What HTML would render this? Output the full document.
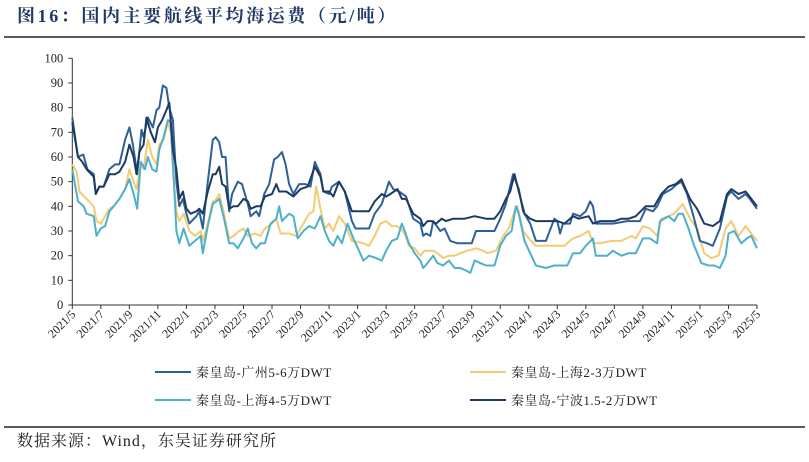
<!DOCTYPE html>
<html><head><meta charset="utf-8"><style>
body{margin:0;background:#fff;width:809px;height:457px;overflow:hidden;font-family:"Liberation Serif","Noto Serif CJK SC",serif}
</style></head><body>
<svg width="809" height="457" xmlns="http://www.w3.org/2000/svg">
<text x="17" y="22" font-size="18" font-weight="bold" letter-spacing="2.6" fill="#1f3a66" font-family="Liberation Serif,Noto Serif CJK SC,serif">图16：国内主要航线平均海运费（元/吨）</text>
<line x1="4" y1="37" x2="805" y2="37" stroke="#222" stroke-width="1.5"/>
<g id="axes"></g>
<g id="series"></g>
<g id="legend" font-size="13" fill="#222"></g>
<line x1="4" y1="427" x2="805" y2="427" stroke="#222" stroke-width="1.5"/>
<text x="17" y="446" font-size="16" letter-spacing="1" fill="#222">数据来源：Wind，东吴证券研究所</text>
</svg>
<script>
const yTicks=[0,10,20,30,40,50,60,70,80,90,100];
const xTickLabels=["2021/5","2021/7","2021/9","2021/11","2022/1","2022/3","2022/5","2022/7","2022/9","2022/11","2023/1","2023/3","2023/5","2023/7","2023/9","2023/11","2024/1","2024/3","2024/5","2024/7","2024/9","2024/11","2025/1","2025/3","2025/5"];
const seriesNames=["秦皇岛-广州5-6万DWT","秦皇岛-上海2-3万DWT","秦皇岛-上海4-5万DWT","秦皇岛-宁波1.5-2万DWT"];
const tA=[0,0.4,0.77,1.05,1.5,1.65,1.9,2.2,2.6,3,3.3,3.7,4,4.25,4.55,4.85,5,5.3,5.65,5.9,6.1,6.35,6.6,6.8,7.05,7.3,7.5,7.75,8,8.2,8.7,8.9,9.15,9.5,9.85,10.05,10.3,10.5,10.75,11,11.2,11.6,11.9,12.3,12.5,12.9,13.1,13.45,13.8,14.15,14.4,14.7,14.95,15.2,15.5,15.9,16.35,16.7,17,17.4,17.6,18,18.2,18.7,19.1,19.6,19.85,20.8,21.2,21.7,22.2,22.5,22.9,23.4,23.9,24.4,24.6,24.8,25.1,25.3,25.8,26.1,26.5,27,27.6,28,28.3,29.6,30,30.4,30.9,31.3,31.6,32.1,32.5,33.2,33.8,34,34.2,34.4,34.9,35.1,35.6,36,36.3,36.5,36.7,37.9,38.9,39.8,40.2,40.7,41,41.4,42,42.4,42.7,43.1,43.5,44,44.5,44.9,45.4,45.9,46.2,46.7,47.2,47.5,48];
const vA=[76,60,61,55,53,45,48,48,55,57,57,67,72,65,53,71,68,76,72,79,80,89,88,80,75,50,40,43,37,33,36,38,31,50,67,68,66,60,60,38,45,50,49,41,36,38,36,45,49,59,60,62,57,49,45,49,49,48,58,53,46,45,48,50,46,34,31,31,37,41,50,47,46,44,35,33,28,29,28,34,30,31,26,25,25,25,30,30,35,41,53,47,38,33,26,26,35,34,29,33,33,37,36,38,42,40,33,33,34,34,39,38,40,45,47,49,50,45,37,26,25,24,31,44,46,43,45,43,39];
const tB=[0,0.3,0.5,1,1.5,1.7,2,2.3,2.6,2.9,3.3,3.7,4,4.3,4.5,4.8,5,5.3,5.6,5.9,6.1,6.4,6.7,6.9,7.05,7.3,7.5,7.8,8.2,8.6,9,9.15,9.5,9.85,10.1,10.3,10.6,11,11.3,11.7,12,12.3,12.8,13.2,13.5,14,14.3,14.6,15.2,15.7,16.2,16.6,16.9,17.1,17.4,17.7,18,18.3,18.7,19.1,19.6,20.4,20.8,21.2,21.6,22,22.4,22.8,23,23.3,23.6,24,24.4,24.7,25,25.3,25.6,26,26.4,26.8,27.2,27.7,28.3,28.8,29.1,29.7,30.2,30.6,31,31.2,31.6,32,32.5,33.4,34,34.5,35.1,35.6,36.2,36.5,37,37.8,38.5,39.2,39.5,40,40.5,41,41.3,41.8,42.2,42.8,43.3,43.8,44.3,44.8,45.3,45.8,46.2,46.7,47.2,47.6,48];
const vB=[57,54,46,43,40,34,33,36,39,40,43,47,55,50,47,57,55,67,60,57,65,67,74,70,55,38,34,37,30,28,30,26,33,42,43,45,38,27,28,30,31,28,29,28,31,33,35,29,29,28,33,37,38,48,39,31,33,30,36,33,26,25,24,28,33,34,32,32,31,29,24,23,20,22,22,22,21,19,20,20,21,22,23,22,21,22,28,31,38,40,30,27,24,24,24,24,27,28,30,25,25,26,26,28,27,32,31,28,35,36,37,41,35,31,21,19,20,31,34,28,32,29,26];
const tC=[0,0.4,0.8,1,1.5,1.7,2,2.3,2.6,2.9,3.3,3.7,4,4.3,4.55,4.8,5.1,5.3,5.6,5.9,6.1,6.4,6.7,6.9,7.05,7.3,7.5,7.8,8.2,8.6,9,9.15,9.5,9.85,10.1,10.3,10.6,11,11.3,11.6,12,12.3,12.6,12.9,13.2,13.5,13.9,14.3,14.5,14.7,15.2,15.5,15.8,16.2,16.6,17,17.4,17.7,18,18.3,18.6,18.9,19.3,19.7,20.1,20.4,20.8,21.3,21.7,22,22.4,22.8,23.1,23.3,23.6,24,24.4,24.6,24.9,25.3,25.6,26,26.4,26.8,27.2,27.6,27.9,28.2,28.6,29,29.6,30,30.4,30.8,31.1,31.3,31.7,32.1,32.5,33.2,33.8,34.2,34.7,35.1,35.6,36,36.5,36.7,37.5,37.9,38.5,39,39.5,40,40.5,41,41.2,41.8,42.2,42.5,42.8,43.2,43.6,44.1,44.6,45,45.4,45.8,46,46.4,46.9,47.3,47.6,48];
const vC=[55,42,40,37,36,28,31,32,38,40,43,47,51,45,39,58,55,60,55,54,63,68,75,74,58,30,25,31,24,26,28,21,32,41,42,43,36,25,25,23,27,31,25,23,25,25,33,35,40,34,37,36,27,30,32,31,36,30,26,24,28,25,33,27,22,18,20,19,18,22,26,27,33,30,25,21,18,15,17,20,17,16,18,15,15,14,13,18,17,16,16,24,28,30,40,37,26,21,16,15,16,16,16,21,21,24,27,20,20,22,20,21,21,27,27,25,34,36,34,37,37,31,24,17,16,16,15,20,29,30,25,27,28,23];
const tD=[0,0.4,0.7,1,1.5,1.65,1.9,2.2,2.6,3,3.3,3.7,4,4.3,4.5,4.7,5,5.2,5.5,5.8,6,6.3,6.6,6.8,7.05,7.3,7.5,7.75,8,8.3,8.7,8.9,9.15,9.5,9.85,10.05,10.3,10.5,10.75,11,11.3,11.6,12,12.3,12.5,12.9,13.2,13.5,14,14.3,14.5,15,15.5,16,16.5,17,17.4,17.6,18,18.3,18.7,19.1,19.6,20,20.8,21.2,21.7,22,22.3,22.8,23.1,23.4,23.9,24.4,24.6,24.9,25.2,25.5,25.9,26.2,26.7,27.5,28.2,29,29.6,30,30.4,30.7,31,31.3,31.7,32.1,32.5,33.5,34,34.5,35.1,35.5,36.2,36.5,37,38,38.5,39,39.5,40.2,40.8,41.3,41.8,42.3,42.7,43.3,43.8,44.3,44.9,45.4,45.9,46.2,46.7,47.2,47.6,48];
const vD=[74,60,58,55,52,45,48,48,53,53,54,58,65,60,53,62,65,76,70,66,72,75,79,82,63,55,43,46,39,37,38,39,37,46,53,53,56,49,48,39,40,40,43,42,39,40,40,44,45,49,46,46,44,47,48,56,52,46,46,44,50,46,38,38,38,42,45,44,45,47,43,43,37,35,32,34,34,33,35,34,35,35,36,35,35,38,43,46,53,46,37,35,34,34,34,33,36,35,36,33,34,34,35,35,36,40,40,45,48,49,51,43,39,33,32,34,45,47,45,46,43,40];
const X0=72.3,X1=757,Y0=305,Y1=58.3;
const xs=t=>X0+(X1-X0)*t/48;
const ys=v=>Y0-(Y0-Y1)*v/100;
const NS="http://www.w3.org/2000/svg";
function mk(tag,attrs,parent){const e=document.createElementNS(NS,tag);for(const k in attrs)e.setAttribute(k,attrs[k]);parent.appendChild(e);return e;}
const ax=document.getElementById('axes');
let a=mk('line',{x1:X0,y1:Y1,x2:X0,y2:Y0,stroke:'#333','stroke-width':1},ax);


a=mk('line',{x1:X0,y1:Y0,x2:X1,y2:Y0,stroke:'#333','stroke-width':1},ax);


yTicks.forEach(v=>{
 mk('line',{x1:X0-4,y1:ys(v),x2:X0,y2:ys(v),stroke:'#333'},ax);
 const t=mk('text',{x:X0-9,y:ys(v)+4,'text-anchor':'end','font-size':12.5,fill:'#222'},ax);
 t.textContent=v;
 
 
});
xTickLabels.forEach((l,i)=>{
 const x=xs(i*2);
 mk('line',{x1:x,y1:Y0,x2:x,y2:Y0+4,stroke:'#333'},ax);
 const t=mk('text',{x:x+4,y:Y0+10,'text-anchor':'end','font-size':12,fill:'#222',transform:`rotate(-45 ${x+4} ${Y0+10})`},ax);
 t.textContent=l;
 
 
});
const sg=document.getElementById('series');
const colors=['#2f5f98','#f3cb72','#4db0cd','#1d3a60'];
const data=[[tA,vA],[tB,vB],[tC,vC],[tD,vD]];
const names=['series-guangzhou','series-shanghai-2-3','series-shanghai-4-5','series-ningbo'];
[1,2,0,3].forEach(i=>{
 const [t,v]=data[i];
 const p=mk('polyline',{points:t.map((tt,j)=>xs(tt).toFixed(1)+','+ys(v[j]).toFixed(1)).join(' '),fill:'none',stroke:colors[i],'stroke-width':2,'stroke-linejoin':'round'},sg);
 
 
});
const lg=document.getElementById('legend');
const lp=[[155,372],[470,372],[155,400],[470,400]];
[0,1,2,3].forEach(i=>{
 const [x,y]=lp[i];
 const g=mk('g',{},lg);
 
 
 mk('line',{x1:x,y1:y,x2:x+36,y2:y,stroke:colors[i],'stroke-width':2},g);
 const t=mk('text',{x:x+41,y:y+5,'letter-spacing':0.5},g);
 t.textContent=seriesNames[i];
});
</script>
</body></html>
